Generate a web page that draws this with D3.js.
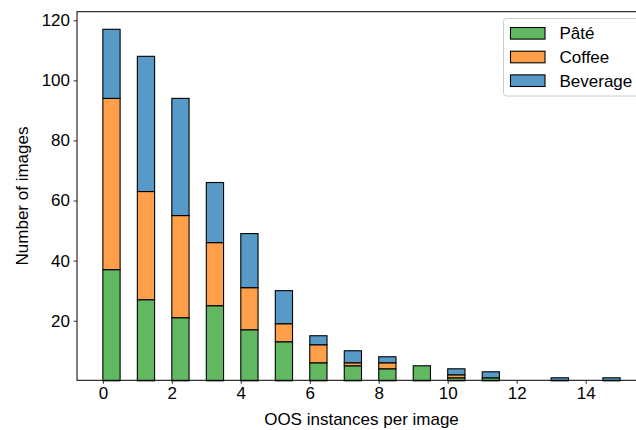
<!DOCTYPE html>
<html>
<head>
<meta charset="utf-8">
<script src="https://cdn.jsdelivr.net/npm/d3@7"></script>
<style>
  body { margin: 0; background: #fff; }
  text { font-family: "Liberation Sans", Arial, sans-serif; }
</style>
</head>
<body>
<div id="chart"></div>
<script>
// loading data (counts per OOS value, one array per series)
var oosValues = [0, 1, 2, 3, 4, 5, 6, 7, 8, 9, 10, 11, 12, 13, 14, 15];
var pate     = [37, 27, 21, 25, 17, 13, 6, 5, 4, 5, 1, 1, 0, 0, 0, 0];
var coffee   = [57, 36, 34, 21, 14, 6, 6, 1, 2, 0, 1, 0, 0, 0, 0, 0];
var beverage = [23, 45, 39, 20, 18, 11, 3, 4, 2, 0, 2, 2, 0, 1, 0, 1];
var seriesNames = ["Pâté", "Coffee", "Beverage"];
var seriesColors = ["#61b861", "#ff9f4a", "#5799c7"];
var xTicks = [0, 2, 4, 6, 8, 10, 12, 14];
var yTicks = [20, 40, 60, 80, 100, 120];

// bins are 0.5 wide over [0,15], so the value 15 lands in the last bin [14.5,15]
var binWidth = 0.5;
function binStart(v) { return Math.min(v, 15 - binWidth); }

var table = oosValues.map(function(v, i) {
  return { v: v, "Pâté": pate[i], "Coffee": coffee[i], "Beverage": beverage[i] };
});

// setting the dimensions and margins of the chart
var W = 636, H = 430;
var plot = { left: 77, right: 646, top: 11.7, bottom: 380.3 };
var fontSize = "17px";

var svg = d3.select("#chart")
  .append("svg")
  .attr("width", W)
  .attr("height", H);

var x = d3.scaleLinear().domain([-0.75, 15.75]).range([plot.left, plot.right]);
var y = d3.scaleLinear().domain([0.17, 122.85]).range([plot.bottom, plot.top]);

var stack = d3.stack().keys(seriesNames);
var layers = stack(table);

// bars
var g = svg.append("g");
layers.forEach(function(layer, li) {
  g.selectAll(".bar" + li)
    .data(layer.filter(function(d) { return d[1] - d[0] > 0; }))
    .enter()
    .append("rect")
    .attr("class", "bar" + li)
    .attr("x", function(d) { return x(binStart(d.data.v)); })
    .attr("width", function(d) { return x(binStart(d.data.v) + binWidth) - x(binStart(d.data.v)); })
    .attr("y", function(d) { return y(d[1]); })
    .attr("height", function(d) { return y(d[0]) - y(d[1]); })
    .attr("fill", seriesColors[li])
    .attr("stroke", "#000")
    .attr("stroke-width", 1.1);
});

// axes
var xAxis = svg.append("g")
  .attr("transform", "translate(0," + plot.bottom + ")")
  .call(d3.axisBottom(x).tickValues(xTicks).tickSize(3.5).tickPadding(3.5).tickFormat(d3.format("d")));
var yAxis = svg.append("g")
  .attr("transform", "translate(" + plot.left + ",0)")
  .call(d3.axisLeft(y).tickValues(yTicks).tickSize(3.5).tickPadding(3.5).tickFormat(d3.format("d")));

[xAxis, yAxis].forEach(function(a) {
  a.select(".domain").remove();
  a.selectAll("line").attr("stroke", "#000").attr("stroke-width", 0.8);
  a.selectAll("text").attr("font-size", fontSize).attr("fill", "#000")
    .style("font-family", "'Liberation Sans', Arial, sans-serif");
});

// frame
svg.append("rect")
  .attr("x", plot.left)
  .attr("y", plot.top)
  .attr("width", plot.right - plot.left)
  .attr("height", plot.bottom - plot.top)
  .attr("fill", "none")
  .attr("stroke", "#000")
  .attr("stroke-width", 1);

// axis titles
svg.append("text")
  .attr("x", (plot.left + plot.right) / 2)
  .attr("y", 424.5)
  .attr("text-anchor", "middle")
  .attr("font-size", fontSize)
  .text("OOS instances per image");

svg.append("text")
  .attr("transform", "translate(28," + ((plot.top + plot.bottom) / 2) + ") rotate(-90)")
  .attr("text-anchor", "middle")
  .attr("font-size", fontSize)
  .text("Number of images");

// legend
var legend = svg.append("g");
legend.append("rect")
  .attr("x", 503.5)
  .attr("y", 18.5)
  .attr("width", 140)
  .attr("height", 77.5)
  .attr("rx", 3)
  .attr("fill", "#fff")
  .attr("fill-opacity", 0.8)
  .attr("stroke", "#cccccc")
  .attr("stroke-width", 1);

seriesNames.forEach(function(name, i) {
  var cy = 33.3 + i * 23.7;
  legend.append("rect")
    .attr("x", 510.5)
    .attr("y", cy - 5.8)
    .attr("width", 34.5)
    .attr("height", 11.6)
    .attr("fill", seriesColors[i])
    .attr("stroke", "#000")
    .attr("stroke-width", 1.1);
  legend.append("text")
    .attr("x", 559.5)
    .attr("y", cy + 6)
    .attr("font-size", fontSize)
    .text(name);
});
</script>
</body>
</html>
